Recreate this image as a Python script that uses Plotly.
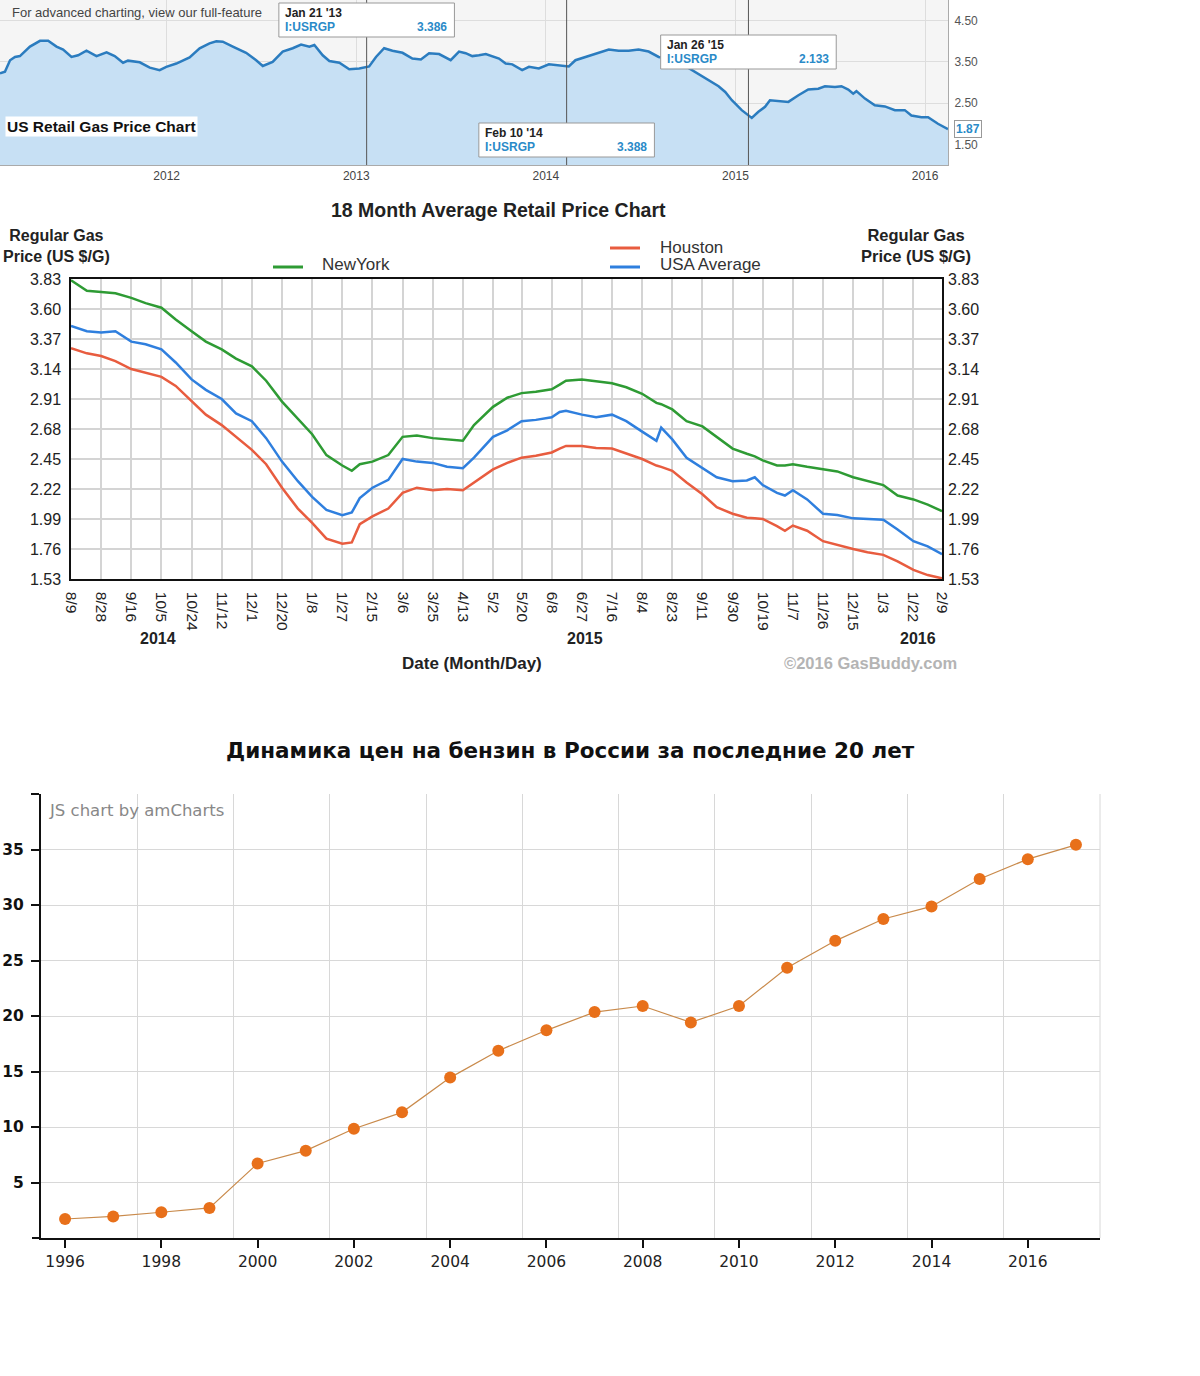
import plotly.graph_objects as go

W, H = 1200, 1376
ARIAL = "Liberation Sans"
VERDANA = "DejaVu Sans"

# ---------------- chart 1: US retail gas price (I:USRGP), decimal year / $ per gallon
us_year = [2011.121, 2011.147, 2011.174, 2011.200, 2011.226, 2011.279, 2011.332, 2011.375,
           2011.419, 2011.454, 2011.498, 2011.533, 2011.577, 2011.630, 2011.683, 2011.726,
           2011.770, 2011.796, 2011.858, 2011.911, 2011.963, 2011.998, 2012.051, 2012.121,
           2012.174, 2012.226, 2012.262, 2012.296, 2012.349, 2012.419, 2012.472, 2012.507,
           2012.559, 2012.612, 2012.665, 2012.709, 2012.753, 2012.779, 2012.823, 2012.858,
           2012.911, 2012.963, 2013.016, 2013.068, 2013.104, 2013.147, 2013.191, 2013.244,
           2013.296, 2013.341, 2013.384, 2013.437, 2013.498, 2013.542, 2013.577, 2013.612,
           2013.647, 2013.683, 2013.753, 2013.788, 2013.823, 2013.875, 2013.911, 2013.963,
           2014.016, 2014.068, 2014.121, 2014.156, 2014.209, 2014.261, 2014.332, 2014.384,
           2014.437, 2014.489, 2014.542, 2014.595, 2014.647, 2014.717, 2014.788, 2014.841,
           2014.911, 2014.946, 2014.981, 2015.033, 2015.086, 2015.121, 2015.156, 2015.182,
           2015.226, 2015.279, 2015.332, 2015.384, 2015.437, 2015.472, 2015.525, 2015.559,
           2015.595, 2015.621, 2015.638, 2015.683, 2015.735, 2015.788, 2015.841, 2015.893,
           2015.928, 2015.981, 2016.016, 2016.068, 2016.121]
us_price = [3.22, 3.26, 3.54, 3.62, 3.64, 3.87, 4.01, 4.01,
            3.87, 3.80, 3.62, 3.66, 3.77, 3.64, 3.73, 3.64,
            3.48, 3.53, 3.49, 3.36, 3.30, 3.38, 3.46, 3.61,
            3.83, 3.95, 4.00, 3.99, 3.87, 3.72, 3.54, 3.40,
            3.50, 3.75, 3.83, 3.92, 3.87, 3.91, 3.66, 3.52,
            3.48, 3.32, 3.34, 3.39, 3.62, 3.83, 3.77, 3.72,
            3.58, 3.56, 3.71, 3.69, 3.54, 3.75, 3.71, 3.64,
            3.66, 3.69, 3.58, 3.46, 3.44, 3.30, 3.38, 3.34,
            3.44, 3.42, 3.39, 3.54, 3.62, 3.68, 3.80, 3.77,
            3.77, 3.80, 3.75, 3.62, 3.58, 3.45, 3.26, 3.10,
            2.91, 2.77, 2.57, 2.33, 2.14, 2.29, 2.41, 2.57,
            2.55, 2.53, 2.69, 2.83, 2.85, 2.91, 2.89, 2.91,
            2.83, 2.73, 2.79, 2.61, 2.45, 2.42, 2.33, 2.33,
            2.20, 2.16, 2.16, 2.00, 1.87]
us_ticks = [2012, 2013, 2014, 2015, 2016]
tip_labels = ["Jan 21 '13", "Feb 10 '14", "Jan 26 '15"]
tip_dates = [2013 + 20 / 365, 2014 + 40 / 365, 2015 + 25 / 365]
tip_values = ["3.386", "3.388", "2.133"]
last_value = "1.87"

# ---------------- chart 2: 18 month average retail price
avg_dates = ["2014-08-09", "2014-08-19", "2014-08-28", "2014-09-06", "2014-09-16", "2014-09-25",
             "2014-10-05", "2014-10-14", "2014-10-24", "2014-11-02", "2014-11-12", "2014-11-21",
             "2014-12-01", "2014-12-10", "2014-12-20", "2014-12-30", "2015-01-08", "2015-01-17",
             "2015-01-27", "2015-02-02", "2015-02-07", "2015-02-15", "2015-02-25", "2015-03-06",
             "2015-03-15", "2015-03-25", "2015-04-03", "2015-04-13", "2015-04-20", "2015-05-02",
             "2015-05-11", "2015-05-20", "2015-05-29", "2015-06-08", "2015-06-13", "2015-06-17",
             "2015-06-27", "2015-07-06", "2015-07-16", "2015-07-25", "2015-08-04", "2015-08-13",
             "2015-08-16", "2015-08-23", "2015-09-01", "2015-09-11", "2015-09-20", "2015-09-30",
             "2015-10-09", "2015-10-14", "2015-10-19", "2015-10-28", "2015-11-02", "2015-11-07",
             "2015-11-16", "2015-11-26", "2015-12-05", "2015-12-15", "2015-12-24", "2016-01-03",
             "2016-01-12", "2016-01-22", "2016-01-31", "2016-02-09"]
newyork = [3.82, 3.74, 3.73, 3.72, 3.685, 3.645, 3.61, 3.52, 3.43, 3.35, 3.29, 3.22,
           3.16, 3.05, 2.89, 2.76, 2.64, 2.48, 2.40, 2.36, 2.41, 2.43, 2.48, 2.62,
           2.63, 2.61, 2.60, 2.59, 2.71, 2.85, 2.92, 2.955, 2.965, 2.985, 3.02, 3.05,
           3.06, 3.045, 3.03, 3.00, 2.95, 2.88, 2.87, 2.83, 2.74, 2.70, 2.62, 2.53,
           2.49, 2.47, 2.44, 2.40, 2.40, 2.41, 2.39, 2.37, 2.355, 2.31, 2.28, 2.25,
           2.17, 2.14, 2.10, 2.05]
usa_avg = [3.47, 3.43, 3.42, 3.43, 3.35, 3.33, 3.29, 3.19, 3.06, 2.98, 2.91, 2.80,
           2.74, 2.61, 2.43, 2.28, 2.16, 2.06, 2.02, 2.04, 2.15, 2.23, 2.29, 2.45,
           2.43, 2.42, 2.39, 2.38, 2.46, 2.62, 2.67, 2.74, 2.75, 2.77, 2.81, 2.82,
           2.79, 2.77, 2.79, 2.74, 2.66, 2.59, 2.69, 2.60, 2.46, 2.38, 2.31, 2.28,
           2.285, 2.31, 2.25, 2.19, 2.17, 2.21, 2.14, 2.03, 2.02, 1.995, 1.99, 1.985,
           1.91, 1.82, 1.78, 1.72]
houston = [3.30, 3.26, 3.24, 3.20, 3.14, 3.11, 3.08, 3.01, 2.89, 2.79, 2.71, 2.62,
           2.52, 2.41, 2.23, 2.07, 1.96, 1.84, 1.80, 1.81, 1.95, 2.01, 2.07, 2.19,
           2.23, 2.21, 2.22, 2.21, 2.27, 2.37, 2.42, 2.46, 2.475, 2.50, 2.53, 2.55,
           2.55, 2.535, 2.53, 2.49, 2.45, 2.40, 2.39, 2.36, 2.27, 2.18, 2.08, 2.03,
           2.00, 1.995, 1.99, 1.935, 1.90, 1.94, 1.90, 1.82, 1.79, 1.76, 1.735, 1.715,
           1.665, 1.60, 1.56, 1.535]
avg_tick_dates = ["2014-08-09", "2014-08-28", "2014-09-16", "2014-10-05", "2014-10-24",
                  "2014-11-12", "2014-12-01", "2014-12-20", "2015-01-08", "2015-01-27",
                  "2015-02-15", "2015-03-06", "2015-03-25", "2015-04-13", "2015-05-02",
                  "2015-05-20", "2015-06-08", "2015-06-27", "2015-07-16", "2015-08-04",
                  "2015-08-23", "2015-09-11", "2015-09-30", "2015-10-19", "2015-11-07",
                  "2015-11-26", "2015-12-15", "2016-01-03", "2016-01-22", "2016-02-09"]
avg_tick_text = ["8/9", "8/28", "9/16", "10/5", "10/24", "11/12", "12/1", "12/20", "1/8", "1/27",
                 "2/15", "3/6", "3/25", "4/13", "5/2", "5/20", "6/8", "6/27", "7/16", "8/4",
                 "8/23", "9/11", "9/30", "10/19", "11/7", "11/26", "12/15", "1/3", "1/22", "2/9"]
price_ticks = [1.53, 1.76, 1.99, 2.22, 2.45, 2.68, 2.91, 3.14, 3.37, 3.60, 3.83]
year_labels = ["2014", "2015", "2016"]
year_label_dates = ["2014-10-03", "2015-06-29", "2016-01-25"]

# ---------------- chart 3: petrol price in Russia, rub per litre
ru_years = [1996, 1997, 1998, 1999, 2000, 2001, 2002, 2003, 2004, 2005, 2006,
            2007, 2008, 2009, 2010, 2011, 2012, 2013, 2014, 2015, 2016, 2017]
ru_price = [1.71, 1.94, 2.32, 2.71, 6.71, 7.87, 9.84, 11.32, 14.45, 16.87, 18.71,
            20.35, 20.90, 19.42, 20.90, 24.35, 26.77, 28.74, 29.87, 32.35, 34.13, 35.42]
ru_ticks = [1996, 1998, 2000, 2002, 2004, 2006, 2008, 2010, 2012, 2014, 2016]
ru_grid = [1997.5, 1999.5, 2001.5, 2003.5, 2005.5, 2007.5, 2009.5, 2011.5, 2013.5, 2015.5]


def px(x):
    return x / W


def py(y):
    return 1 - y / H


def note(text, x, y, size, color="#222", bold=False, family=ARIAL, xanchor="center", **kw):
    return dict(text=text, x=px(x), y=py(y), xref="paper", yref="paper", showarrow=False,
                xanchor=xanchor, yanchor="middle",
                font=dict(size=size, color=color, family=family,
                          weight="bold" if bold else "normal"), **kw)


fig = go.Figure()

# chart 1
fig.add_trace(go.Scatter(x=us_year, y=us_price, xaxis="x", yaxis="y", mode="lines",
                         fill="tozeroy", fillcolor="#c7e0f4",
                         line=dict(color="#2b7cbf", width=2.5)))
# chart 2
fig.add_trace(go.Scatter(x=avg_dates, y=newyork, xaxis="x2", yaxis="y2", mode="lines",
                         line=dict(color="#2e9b34", width=2.5)))
fig.add_trace(go.Scatter(x=avg_dates, y=usa_avg, xaxis="x2", yaxis="y2", mode="lines",
                         line=dict(color="#2f7fde", width=2.5)))
fig.add_trace(go.Scatter(x=avg_dates, y=houston, xaxis="x2", yaxis="y3", mode="lines",
                         line=dict(color="#e85c3f", width=2.5)))
# chart 3
fig.add_trace(go.Scatter(x=ru_years, y=ru_price, xaxis="x3", yaxis="y4", mode="lines+markers",
                         line=dict(color="#c98a4b", width=1.2),
                         marker=dict(size=12, color="#e8701a", line=dict(width=0))))

shapes = [
    # light grey backdrop of the first chart
    dict(type="rect", xref="x domain", yref="y domain", x0=0, x1=1, y0=0, y1=1,
         fillcolor="#f5f5f5", line=dict(width=0), layer="below"),
]
annotations = [
    note("For advanced charting, view our full-feature", 10, 13, 13, color="#444", xanchor="left"),
    note("<b>US Retail Gas Price Chart</b>", 101, 126, 15.5, color="#111", bgcolor="white"),
]

# crosshair tooltips on chart 1
tip_top = [3, 123, 35]
half = 0.463
for lab, d, val, top in zip(tip_labels, tip_dates, tip_values, tip_top):
    shapes.append(dict(type="line", xref="x", yref="y domain", x0=d, x1=d, y0=0, y1=1,
                       line=dict(color="#555", width=1), layer="above"))
for lab, d, val, top in zip(tip_labels, tip_dates, tip_values, tip_top):
    shapes.append(dict(type="rect", xref="x", yref="paper", x0=d - half, x1=d + half,
                       y0=py(top + 34), y1=py(top), fillcolor="white",
                       line=dict(color="#999", width=1), layer="above"))
    annotations.append(dict(text=lab, xref="x", yref="paper", x=d - half, y=py(top + 10),
                            xanchor="left", yanchor="middle", xshift=4, showarrow=False,
                            font=dict(size=12, family=ARIAL, color="#222", weight="bold")))
    annotations.append(dict(text="I:USRGP", xref="x", yref="paper", x=d - half, y=py(top + 24),
                            xanchor="left", yanchor="middle", xshift=4, showarrow=False,
                            font=dict(size=12, family=ARIAL, color="#2a8ac8", weight="bold")))
    annotations.append(dict(text=val, xref="x", yref="paper", x=d + half, y=py(top + 24),
                            xanchor="right", yanchor="middle", xshift=-5, showarrow=False,
                            font=dict(size=12, family=ARIAL, color="#2a8ac8", weight="bold")))
annotations.append(dict(text=last_value, xref="x", yref="y", x=us_year[-1], y=us_price[-1],
                        xanchor="left", yanchor="middle", xshift=6, showarrow=False,
                        bgcolor="white", bordercolor="#999", borderwidth=1, borderpad=1,
                        font=dict(size=12, family=ARIAL, color="#2a8ac8", weight="bold")))

# chart 2 texts and legend
annotations += [
    note("18 Month Average Retail Price Chart", 498, 210, 19.5, bold=True),
    note("Regular Gas<br>Price (US $/G)", 56, 246, 16, bold=True),
    note("Regular Gas<br>Price (US $/G)", 916, 246, 16.5, bold=True),
    note("NewYork", 320, 265, 17, color="#333", xanchor="left"),
    note("Houston", 658, 247, 17, color="#333", xanchor="left"),
    note("USA Average", 658, 265, 17, color="#333", xanchor="left"),
    note("Date (Month/Day)", 472, 663, 17, bold=True),
    note("©2016 GasBuddy.com", 870, 663, 16.5, color="#b4b4b4", bold=True),
]
for lab, d in zip(year_labels, year_label_dates):
    annotations.append(dict(text=lab, xref="x2", yref="paper", x=d, y=py(638), showarrow=False,
                            xanchor="center", yanchor="middle",
                            font=dict(size=16, family=ARIAL, color="#222", weight="bold")))
for col, x0, y in [("#2e9b34", 273, 267), ("#e85c3f", 610, 248), ("#2f7fde", 610, 267)]:
    shapes.append(dict(type="line", xref="paper", yref="paper", x0=px(x0), x1=px(x0 + 30),
                       y0=py(y), y1=py(y), line=dict(color=col, width=3)))

# chart 3 texts
annotations += [
    note("Динамика цен на бензин в России за последние 20 лет", 570, 750, 21.5,
         color="#111", bold=True, family=VERDANA),
    note("JS chart by amCharts", 47, 810, 16.5, color="#888", family=VERDANA, xanchor="left"),
]
shapes.append(dict(type="line", xref="x3 domain", yref="y4 domain", x0=1, x1=1, y0=0, y1=1,
                   line=dict(color="#d8d8d8", width=1), layer="below"))
shapes.append(dict(type="line", xref="paper", yref="y4 domain", x0=px(32), x1=px(41), y0=0, y1=0,
                   line=dict(color="#111", width=2)))

fig.update_layout(
    width=W, height=H, margin=dict(l=0, r=0, t=0, b=0, autoexpand=False),
    paper_bgcolor="white", plot_bgcolor="rgba(0,0,0,0)", showlegend=False,
    shapes=shapes, annotations=annotations,
    # chart 1 axes
    xaxis=dict(domain=[0, px(948)], anchor="y", range=[2011.121, 2016.121], automargin=False,
               tickvals=us_ticks, ticktext=[str(t) for t in us_ticks],
               showgrid=True, gridcolor="#dddddd", zeroline=False,
               showline=True, linecolor="#aaaaaa", linewidth=1,
               tickfont=dict(size=12, family=ARIAL, color="#444")),
    yaxis=dict(domain=[py(165), 1], anchor="x", range=[1.0, 5.0], side="right", automargin=False,
               tickvals=[1.5, 2.5, 3.5, 4.5], ticktext=["1.50", "2.50", "3.50", "4.50"],
               showgrid=True, gridcolor="#dddddd", zeroline=False,
               showline=True, mirror=True, linecolor="#aaaaaa", linewidth=1,
               ticklabelstandoff=3, tickfont=dict(size=12, family=ARIAL, color="#555")),
    # chart 2 axes
    xaxis2=dict(domain=[px(71), px(942)], anchor="y2", type="date", automargin=False,
                range=["2014-08-09", "2016-02-09"], tickvals=avg_tick_dates,
                ticktext=avg_tick_text, tickangle=90, showgrid=True, gridcolor="#d4d4d4",
                gridwidth=1.5, zeroline=False, showline=True, mirror=True,
                linecolor="#111", linewidth=1.5, ticklabelstandoff=8,
                tickfont=dict(size=15.5, family=ARIAL, color="#222")),
    yaxis2=dict(domain=[py(579), py(279)], anchor="x2", range=[1.53, 3.83], automargin=False,
                tickvals=price_ticks, ticktext=[f"{v:.2f}" for v in price_ticks],
                showgrid=True, gridcolor="#d4d4d4", gridwidth=1.5, zeroline=False,
                showline=True, mirror=True, linecolor="#111", linewidth=1.5,
                ticklabelstandoff=5, tickfont=dict(size=16, family=ARIAL, color="#222")),
    yaxis3=dict(overlaying="y2", anchor="x2", side="right", range=[1.53, 3.83], automargin=False,
                tickvals=price_ticks, ticktext=[f"{v:.2f}" for v in price_ticks],
                showgrid=False, zeroline=False, showline=False,
                ticklabelstandoff=5, tickfont=dict(size=16, family=ARIAL, color="#222")),
    # chart 3 axes
    xaxis3=dict(domain=[px(41), px(1100)], anchor="y4", range=[1995.5, 2017.5], automargin=False,
                tickvals=ru_ticks, ticktext=[str(t) for t in ru_ticks],
                showgrid=False, zeroline=False, showline=True, linecolor="#111", linewidth=2,
                ticks="outside", ticklen=8, tickcolor="#111", tickwidth=1.5,
                minor=dict(tickvals=ru_grid, showgrid=True, gridcolor="#d8d8d8", ticks=""),
                tickfont=dict(size=15.5, family=VERDANA, color="#222")),
    yaxis4=dict(domain=[py(1238), py(794)], anchor="x3", range=[0, 40], automargin=False,
                tickvals=[5, 10, 15, 20, 25, 30, 35, 40],
                ticktext=["5", "10", "15", "20", "25", "30", "35", ""],
                showgrid=True, gridcolor="#d8d8d8", zeroline=False,
                showline=True, linecolor="#111", linewidth=2,
                ticks="outside", ticklen=8, tickcolor="#111", tickwidth=1.5,
                ticklabelstandoff=4,
                tickfont=dict(size=15.5, family=VERDANA, color="#111", weight="bold")),
)

# the page body has a default 8px margin; drop it so the figure sits at the window corner
fig.write_html("out.html", config={"displayModeBar": False},
               post_script="document.body.style.margin = '0';")
